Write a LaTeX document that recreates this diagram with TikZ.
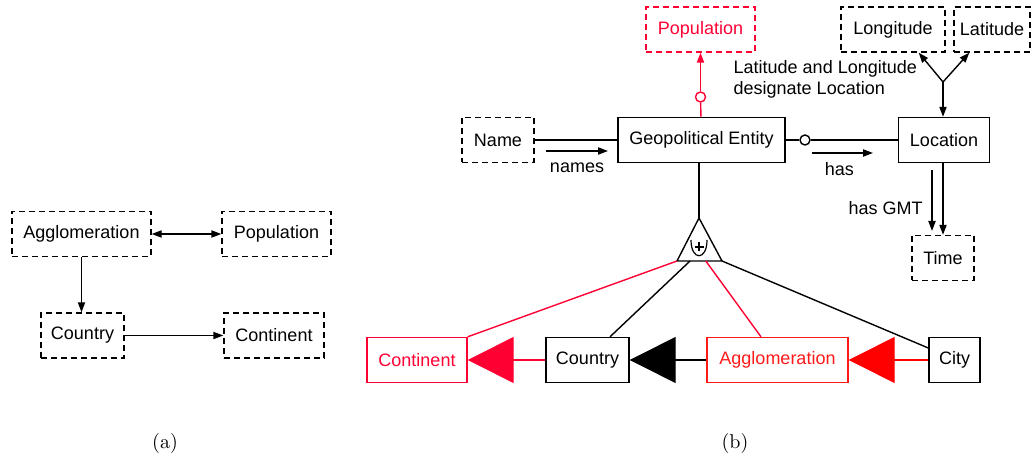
\documentclass[tikz,border=0pt]{standalone}
\usepackage{fontspec}
\newfontfamily\helv{Liberation Sans}
\usetikzlibrary{arrows.meta,calc}
\definecolor{crim}{RGB}{255,0,51}
\definecolor{aggred}{RGB}{255,25,25}
\begin{document}
\begin{tikzpicture}[x=0.5pt,y=-0.5pt,>={Triangle[length=5pt,width=3.6pt]},line width=0.7pt,
 font=\helv\fontsize{9}{10.5}\selectfont,
 cell/.style={draw,minimum height=22.5pt,inner sep=0pt},
 dcell/.style={cell,dash pattern=on 3pt off 2pt},
 ring/.style={circle,draw,fill=white,inner sep=0pt,minimum size=5pt},
 gen/.style={-{Triangle[length=23pt,width=23pt]}},
 capt/.style={font=\rmfamily\fontsize{10}{12}\selectfont}]
\useasboundingbox (0,0) rectangle (1033,459);
% (a)
\node[dcell,minimum width=69.5pt] (agA) at (81.5,234) {Agglomeration};
\node[dcell,minimum width=54.5pt] (popA) at (276.5,234) {Population};
\node[dcell,minimum width=41.5pt] (couA) at (82.5,335.5) {Country};
\node[dcell,minimum width=50pt] (conA) at (274,335.5) {Continent};
\draw[<->] (agA) -- (popA);
\draw[->] (agA) -- (agA |- couA.north);
\draw[->] (couA) -- (conA);
% (b)
\node[dcell,draw=crim,text=crim,minimum width=54.5pt] (popB) at (700.5,29.5) {Population};
\node[cell,minimum width=83.5pt] (geo) at (701.5,140) {Geopolitical Entity};
\node[dcell,minimum width=36pt] (name) at (498,140) {Name};
\node[cell,minimum width=45.5pt] (loc) at (944,140) {Location};
\node[dcell,minimum width=52pt] (lon) at (893,29.5) {Longitude};
\node[dcell,minimum width=38pt] (lat) at (992,29.5) {Latitude};
\node[dcell,minimum width=31pt] (time) at (943,258) {Time};
\draw (name) -- (geo);
\node[ring] (hasring) at (805,140) {};
\draw (geo) -- (hasring) -- (loc);
\node[ring,draw=crim] (popring) at (700.5,97) {};
\draw[crim] (geo) -- (popring);
\draw[crim,->] (popring) -- (popB);
\coordinate (n1) at (546,151); \coordinate (n2) at (608,151);
\draw[->] (n1) -- node[below=2pt]{names} (n2);
\coordinate (h1) at (812,153); \coordinate (h2) at (873,153);
\draw[->] (h1) -- node[below=1pt,pos=0.45]{has} (h2);
\coordinate (fork) at (943,82);
\draw[->] (fork) -- ([xshift=-13.5pt]lon.south east);
\draw[->] (fork) -- ([xshift=8pt]lat.south west);
\draw[->] (fork) -- (fork |- loc.north);
\node[anchor=north west,align=left,inner sep=0pt] (desig) at (733,60) {Latitude and Longitude\\designate Location};
\draw[->] (time |- loc.south) -- (time);
\coordinate (g1) at (932,170); \coordinate (g2) at (932,231);
\draw[->] (g1) -- node[left=1pt,pos=0.62]{has GMT} (g2);
\coordinate (apex) at (699,218); \coordinate (bl) at (677,261); \coordinate (br) at (722,261);
\draw (apex) -- (br) -- (bl) -- cycle;
\draw[line width=0.6pt] (691,240) .. controls (691,261) and (707,261) .. (707,240);
\draw[line width=0.6pt] (694.5,247) -- (703.5,247) (699,242.5) -- (699,251.5);
\draw (apex |- geo.south) -- (apex);
\node[cell,draw=crim,text=crim,minimum width=50pt] (conB) at (417,360) {Continent};
\node[cell,minimum width=41.5pt] (couB) at (587.5,360) {Country};
\node[cell,draw=aggred,text=aggred,minimum width=70.5pt] (agB) at (777.5,360) {Agglomeration};
\node[cell,minimum width=25.5pt] (city) at (954.5,360) {City};
\draw[crim,gen] (couB) -- (conB);
\draw[gen] (agB) -- (couB);
\draw[red,gen] (city) -- (agB);
\draw[crim] (bl) -- (conB.north east);
\draw ($(bl)!0.29!(br)$) -- ([xshift=11.25pt]couB.north);
\draw[crim] ($(bl)!0.64!(br)$) -- ([xshift=-8.25pt]agB.north);
\draw (br) -- ([yshift=6pt]city.west);
\node[capt] (capa) at (165,443) {(a)};
\node[capt] (capb) at (735,443) {(b)};
\end{tikzpicture}
\end{document}
